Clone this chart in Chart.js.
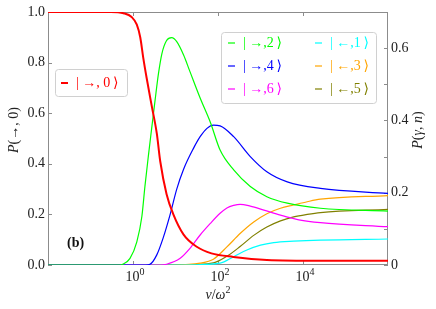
<!DOCTYPE html>
<html>
<head>
<meta charset="utf-8">
<script src="https://cdn.jsdelivr.net/npm/chart.js@4.4.0/dist/chart.umd.min.js"></script>
<style>
  html, body { margin: 0; padding: 0; background: #fff; }
  #wrap { width: 436px; height: 309px; }
</style>
</head>
<body>
<div id="wrap"><canvas id="grafico" width="436" height="309"></canvas></div>
<script>
// |→,0⟩ probability (left axis)
const vRed = [0.01, 0.3, 0.6, 0.93, 1.23, 1.48, 1.74, 2.09, 2.75, 3.63, 4.37, 6.17, 8.9, 15.5, 31.6, 70, 229, 1410, 25700, 1e6];
const pRed = [1.0, 1.0, 0.995, 0.98, 0.95, 0.90, 0.82, 0.74, 0.63, 0.52, 0.41, 0.28, 0.20, 0.12, 0.072, 0.046, 0.032, 0.020, 0.017, 0.017];

// other states (right axis)
const vGreen = [0.01, 0.5, 0.59, 0.85, 1.23, 1.62, 1.91, 2.29, 2.75, 3.31, 3.98, 4.79, 6.17, 8.13, 10.7, 15.5, 21.9, 38, 66, 112, 234, 575, 1410, 4270, 25700, 1e6];
const pGreen = [0, 0, 0.003, 0.0185, 0.064, 0.135, 0.218, 0.300, 0.378, 0.456, 0.530, 0.585, 0.621, 0.629, 0.618, 0.581, 0.535, 0.462, 0.395, 0.318, 0.263, 0.217, 0.189, 0.171, 0.157, 0.149];

const vBlue = [0.01, 2.0, 2.51, 3.63, 5.13, 7.41, 10.7, 15.5, 26.3, 38, 55, 78, 112, 234, 575, 1410, 4270, 25700, 1e6];
const pBlue = [0, 0, 0.002, 0.028, 0.075, 0.138, 0.210, 0.265, 0.322, 0.355, 0.378, 0.387, 0.385, 0.355, 0.300, 0.258, 0.230, 0.212, 0.198];

const vMagenta = [0.01, 4.37, 6.17, 12.9, 21.9, 38, 66, 112, 162, 234, 331, 575, 1200, 2950, 8000, 25700, 1e6];
const pMagenta = [0, 0, 0.002, 0.0185, 0.046, 0.083, 0.115, 0.143, 0.158, 0.165, 0.168, 0.163, 0.152, 0.138, 0.125, 0.117, 0.106];

const vCyan = [0.01, 17, 112, 234, 479, 1000, 2040, 6030, 25700, 1e6];
const pCyan = [0, 0, 0.005, 0.023, 0.0415, 0.055, 0.062, 0.066, 0.069, 0.072];

const vOrange = [0.01, 9.8, 38, 78, 162, 331, 692, 1410, 2950, 6030, 12600, 25700, 1e6];
const pOrange = [0, 0, 0.005, 0.016, 0.050, 0.087, 0.119, 0.142, 0.157, 0.166, 0.175, 0.182, 0.192];

const vOlive = [0.01, 12.9, 78, 162, 331, 692, 1410, 2950, 6030, 12600, 25700, 1e6];
const pOlive = [0, 0, 0.006, 0.024, 0.051, 0.082, 0.105, 0.122, 0.133, 0.140, 0.145, 0.154];

const xTicks = [1, 100, 10000];
const xTickExp = ['0', '2', '4'];
const leftTicks = [0, 0.2, 0.4, 0.6, 0.8, 1.0];
const leftLabels = ['0.0', '0.2', '0.4', '0.6', '0.8', '1.0'];
const rightTicks = [0, 0.1, 0.2, 0.3, 0.4, 0.5, 0.6];
const rightLabels = ['0', '', '0.2', '', '0.4', '', '0.6'];

const SERIF = '"Liberation Serif", "DejaVu Serif", serif';
const SPINE = '#8c8c8c';

function pares(xs, ys) {
  return xs.map((x, i) => ({ x: x, y: ys[i] }));
}

function serie(label, xs, ys, cor, eixo, largura) {
  return {
    label: label,
    data: pares(xs, ys),
    borderColor: cor,
    backgroundColor: cor,
    borderWidth: largura,
    pointRadius: 0,
    showLine: true,
    cubicInterpolationMode: 'monotone',
    yAxisID: eixo
  };
}

// draws a list of text pieces one after another
function textoRico(ctx, partes, x, y, align) {
  let total = 0;
  partes.forEach(p => { ctx.font = p.f; total += ctx.measureText(p.t).width; });
  let cx = align === 'center' ? x - total / 2 : (align === 'right' ? x - total : x);
  partes.forEach(p => {
    ctx.font = p.f;
    ctx.textAlign = 'left';
    ctx.fillText(p.t, cx, y + (p.dy || 0));
    cx += ctx.measureText(p.t).width;
  });
}

function caixaLegenda(ctx, x, y, w, h) {
  const r = 3;
  ctx.save();
  ctx.beginPath();
  ctx.moveTo(x + r, y);
  ctx.arcTo(x + w, y, x + w, y + h, r);
  ctx.arcTo(x + w, y + h, x, y + h, r);
  ctx.arcTo(x, y + h, x, y, r);
  ctx.arcTo(x, y, x + w, y, r);
  ctx.closePath();
  ctx.fillStyle = 'rgba(255,255,255,0.8)';
  ctx.fill();
  ctx.strokeStyle = '#d0d0d0';
  ctx.lineWidth = 1;
  ctx.stroke();
  ctx.restore();
}

function itemLegenda(ctx, ds, x, y) {
  ctx.save();
  ctx.strokeStyle = ds.borderColor;
  ctx.lineWidth = ds.borderWidth;
  ctx.beginPath();
  ctx.moveTo(x, y);
  ctx.lineTo(x + 7, y);
  ctx.stroke();
  ctx.fillStyle = ds.borderColor;
  ctx.textBaseline = 'middle';
  textoRico(ctx, [{ t: ds.label, f: '14px ' + SERIF }], x + 15, y, 'left');
  ctx.restore();
}

const eixosPlugin = {
  id: 'eixos',
  beforeDatasetsDraw(chart) {
    const ctx = chart.ctx;
    const a = chart.chartArea;
    const sx = chart.scales.x, sl = chart.scales.yL, sr = chart.scales.yR;
    ctx.save();
    ctx.strokeStyle = SPINE;
    ctx.lineWidth = 1;
    ctx.strokeRect(a.left + 0.5, a.top + 0.5, a.right - a.left - 1, a.bottom - a.top - 1);
    // inward ticks
    ctx.beginPath();
    xTicks.forEach(v => {
      const px = Math.round(sx.getPixelForValue(v)) + 0.5;
      ctx.moveTo(px, a.bottom); ctx.lineTo(px, a.bottom - 4);
      ctx.moveTo(px, a.top); ctx.lineTo(px, a.top + 4);
    });
    leftTicks.forEach(v => {
      const py = Math.round(sl.getPixelForValue(v)) + 0.5;
      ctx.moveTo(a.left, py); ctx.lineTo(a.left + 4, py);
    });
    rightTicks.forEach(v => {
      const py = Math.round(sr.getPixelForValue(v)) + 0.5;
      ctx.moveTo(a.right, py); ctx.lineTo(a.right - 4, py);
    });
    ctx.stroke();

    ctx.fillStyle = '#222';
    ctx.textBaseline = 'middle';
    leftTicks.forEach((v, i) => {
      textoRico(ctx, [{ t: leftLabels[i], f: '14px ' + SERIF }], a.left - 3, sl.getPixelForValue(v), 'right');
    });
    rightTicks.forEach((v, i) => {
      if (rightLabels[i]) textoRico(ctx, [{ t: rightLabels[i], f: '14px ' + SERIF }], a.right + 3, sr.getPixelForValue(v), 'left');
    });
    ctx.textBaseline = 'alphabetic';
    xTicks.forEach((v, i) => {
      textoRico(ctx, [{ t: '10', f: '14px ' + SERIF }, { t: xTickExp[i], f: '10px ' + SERIF, dy: -6 }],
        sx.getPixelForValue(v) + 2, 281, 'center');
    });

    // axis titles
    textoRico(ctx, [{ t: 'v', f: 'italic 14px ' + SERIF }, { t: '/', f: '14px ' + SERIF },
      { t: 'ω', f: 'italic 14px ' + SERIF }, { t: '2', f: '10px ' + SERIF, dy: -6 }], (a.left + a.right) / 2, 299, 'center');

    ctx.save();
    ctx.translate(18, 130);
    ctx.rotate(-Math.PI / 2);
    textoRico(ctx, [{ t: 'P', f: 'italic 14px ' + SERIF }, { t: '(\u2192, 0)', f: '14px ' + SERIF }], 0, 0, 'center');
    ctx.restore();

    ctx.save();
    ctx.translate(422, 130);
    ctx.rotate(-Math.PI / 2);
    textoRico(ctx, [{ t: 'P', f: 'italic 14px ' + SERIF }, { t: '(', f: '14px ' + SERIF },
      { t: 'γ', f: 'italic 14px ' + SERIF }, { t: ', ', f: '14px ' + SERIF },
      { t: 'n', f: 'italic 14px ' + SERIF }, { t: ')', f: '14px ' + SERIF }], 0, 0, 'center');
    ctx.restore();
    ctx.restore();
  },
  afterDatasetsDraw(chart) {
    const ctx = chart.ctx;
    const ds = chart.data.datasets;
    ctx.save();
    caixaLegenda(ctx, 55.5, 69.5, 72, 27);
    itemLegenda(ctx, ds[0], 61, 83);

    caixaLegenda(ctx, 221.5, 32.5, 155, 71);
    const linhas = [43, 66, 89];
    [1, 2, 3].forEach((k, i) => itemLegenda(ctx, ds[k], 228, linhas[i]));
    [4, 5, 6].forEach((k, i) => itemLegenda(ctx, ds[k], 315, linhas[i]));

    ctx.fillStyle = '#111';
    ctx.textBaseline = 'middle';
    textoRico(ctx, [{ t: '(b)', f: 'bold 14px ' + SERIF }], 67, 243, 'left');
    ctx.restore();
  }
};

new Chart(document.getElementById('grafico'), {
  type: 'scatter',
  data: {
    datasets: [
      serie('| \u2192, 0\u2009\u27E9', vRed, pRed, '#ff0000', 'yL', 2),
      serie('| \u2192,2\u2009\u27E9', vGreen, pGreen, '#00ff00', 'yR', 1.2),
      serie('| \u2192,4\u2009\u27E9', vBlue, pBlue, '#0000ff', 'yR', 1.2),
      serie('| \u2192,6\u2009\u27E9', vMagenta, pMagenta, '#ff00ff', 'yR', 1.2),
      serie('| \u2190,1\u2009\u27E9', vCyan, pCyan, '#00ffff', 'yR', 1.2),
      serie('| \u2190,3\u2009\u27E9', vOrange, pOrange, '#ffa500', 'yR', 1.2),
      serie('| \u2190,5\u2009\u27E9', vOlive, pOlive, '#808000', 'yR', 1.2)
    ]
  },
  options: {
    responsive: false,
    animation: false,
    devicePixelRatio: 1,
    layout: { padding: { left: 48, right: 48, top: 12, bottom: 44 } },
    plugins: { legend: { display: false }, tooltip: { enabled: false } },
    scales: {
      x: { type: 'logarithmic', min: 0.01, max: 1e6, display: false },
      yL: { type: 'linear', position: 'left', min: 0, max: 1, display: false },
      yR: { type: 'linear', position: 'right', min: 0, max: 0.7, display: false }
    }
  },
  plugins: [eixosPlugin]
});
</script>
</body>
</html>
